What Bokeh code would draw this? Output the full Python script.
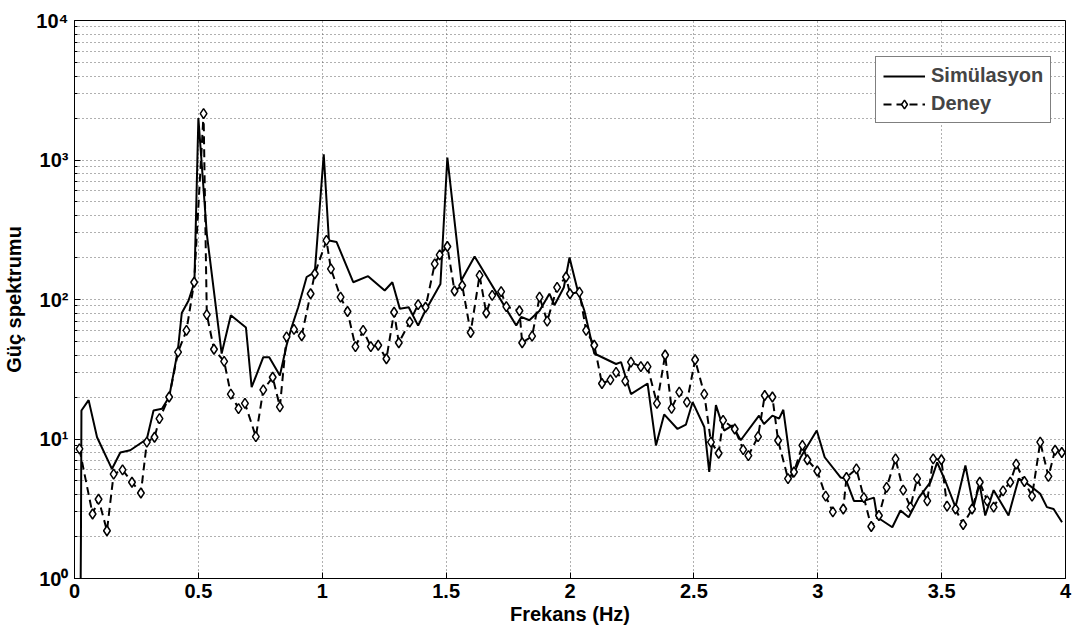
from bokeh.plotting import figure
from bokeh.models import FixedTicker, Legend, LegendItem, ColumnDataSource
from bokeh.embed import file_html
from bokeh.resources import INLINE

# Simulation (solid line)
sim_f = [0.024, 0.026, 0.028, 0.057, 0.091, 0.151, 0.185, 0.225, 0.292, 0.319, 0.353, 0.382, 0.417, 0.433,
         0.460, 0.484, 0.500, 0.534, 0.594, 0.631, 0.692, 0.715, 0.762, 0.786, 0.829, 0.856, 0.876, 0.903,
         0.937, 0.970, 1.006, 1.027, 1.058, 1.125, 1.185, 1.252, 1.283, 1.313, 1.349, 1.387, 1.413, 1.477,
         1.505, 1.561, 1.615, 1.783, 1.803, 1.836, 1.877, 1.917, 1.937, 1.975, 1.998, 2.031, 2.058, 2.098,
         2.186, 2.206, 2.246, 2.313, 2.347, 2.380, 2.434, 2.468, 2.495, 2.542, 2.562, 2.589, 2.622, 2.656,
         2.689, 2.763, 2.783, 2.817, 2.844, 2.861, 2.898, 2.931, 2.996, 3.028, 3.092, 3.112, 3.146, 3.186,
         3.227, 3.240, 3.301, 3.334, 3.367, 3.408, 3.455, 3.482, 3.515, 3.556, 3.596, 3.629, 3.653, 3.676,
         3.710, 3.770, 3.811, 3.838, 3.865, 3.898, 3.925, 3.952, 3.986]
sim_v = [0.5, 2.0, 16, 19, 10.3, 6.1, 8.0, 8.3, 10, 16, 16.5, 20, 43, 80,
         98, 133, 2000, 296, 41, 77, 63, 23.5, 38.6, 38.6, 28.5, 47, 63, 88,
         145, 157, 1100, 265, 258, 133, 147, 116, 133, 86, 88, 65, 81, 129,
         1040, 137, 203, 65, 75, 71, 83, 110, 91, 122, 200, 116, 83, 41,
         34.5, 35.6, 21, 25, 9, 15, 11.8, 12.7, 18.4, 12.2, 5.8, 17.5, 11.5, 12.5,
         9.8, 14.7, 12.8, 14.7, 14, 16.2, 5.3, 7.4, 11.5, 7.4, 5.3, 5.2, 3.6, 3.6,
         3.8, 2.75, 2.33, 3.07, 2.75, 3.8, 4.9, 6.8, 5.0, 3.25, 6.45, 3.25, 4.77, 2.83,
         4.3, 2.83, 5.2, 4.9, 4.5, 4.05, 3.25, 3.15, 2.53]

# Experiment (dashed line with diamonds)
exp_f = [0.020, 0.073, 0.097, 0.131, 0.158, 0.194, 0.232, 0.268, 0.292, 0.323, 0.343, 0.382, 0.418, 0.452,
         0.483, 0.521, 0.534, 0.563, 0.604, 0.631, 0.662, 0.688, 0.732, 0.762, 0.800, 0.829, 0.856, 0.886,
         0.917, 0.953, 0.970, 1.017, 1.035, 1.074, 1.102, 1.134, 1.165, 1.196, 1.226, 1.259, 1.290, 1.309,
         1.353, 1.387, 1.417, 1.454, 1.474, 1.505, 1.534, 1.565, 1.599, 1.635, 1.662, 1.686, 1.722, 1.743,
         1.796, 1.807, 1.847, 1.877, 1.908, 1.948, 1.984, 2.000, 2.038, 2.065, 2.098, 2.129, 2.163, 2.186,
         2.223, 2.246, 2.286, 2.313, 2.351, 2.384, 2.410, 2.441, 2.472, 2.505, 2.542, 2.569, 2.600, 2.618,
         2.665, 2.699, 2.720, 2.759, 2.786, 2.817, 2.840, 2.880, 2.904, 2.938, 2.958, 2.998, 3.032, 3.061,
         3.103, 3.116, 3.156, 3.186, 3.216, 3.247, 3.278, 3.314, 3.345, 3.374, 3.401, 3.442, 3.466, 3.499,
         3.522, 3.556, 3.587, 3.623, 3.654, 3.684, 3.710, 3.748, 3.777, 3.801, 3.834, 3.865, 3.898, 3.931,
         3.958, 3.985]
exp_v = [8.5, 2.9, 3.7, 2.2, 5.6, 6.0, 4.9, 4.1, 9.5, 10.3, 14, 20, 42, 60,
         133, 2150, 78, 44, 36, 21, 16.5, 18, 10.4, 22.5, 27.7, 17, 54, 61,
         55, 110, 153, 265, 166, 104, 82, 46, 60, 46, 47, 37.6, 81, 49,
         69, 92, 88, 180, 209, 240, 115, 126, 58, 149, 80, 107, 114, 89,
         83, 49, 54.6, 104, 70, 122, 145, 110, 113, 60, 47, 25, 26.5, 30,
         26, 35.6, 33, 33, 18, 40, 16.6, 21.7, 18.4, 37, 21, 9.5, 7.9, 13.6,
         11.8, 8.4, 7.6, 10.4, 20.5, 20, 9.75, 5.2, 5.8, 9, 7.1, 5.9, 3.9, 3.0,
         3.15, 5.3, 6.1, 3.8, 2.36, 2.83, 4.5, 7.2, 4.3, 3.25, 5.2, 3.6, 7.2, 7.1,
         3.3, 3.15, 2.44, 3.15, 4.9, 3.6, 3.25, 4.25, 4.9, 6.6, 4.96, 3.9, 9.5, 5.4,
         8.3, 8.0]

x_ticks = [0, 0.5, 1, 1.5, 2, 2.5, 3, 3.5, 4]
x_tick_labels = ["0", "0.5", "1", "1.5", "2", "2.5", "3", "3.5", "4"]
y_ticks = [1, 10, 100, 1000, 10000]
y_tick_labels = ["10⁰", "10¹", "10²", "10³", "10⁴"]
y_minor = [m * d for d in [1, 10, 100, 1000] for m in range(2, 10)]

FONT = "Liberation Sans"

p = figure(width=1078, height=634, x_range=(0, 4), y_range=(1, 10000),
           y_axis_type="log", output_backend="svg", toolbar_location=None)
p.min_border_left = 72
p.min_border_top = 20
p.min_border_right = 13
p.min_border_bottom = 56
p.background_fill_color = "white"
p.outline_line_color = "black"
p.outline_line_width = 1

xt = FixedTicker(ticks=x_ticks, minor_ticks=[])
yt = FixedTicker(ticks=y_ticks, minor_ticks=y_minor)

p.xaxis.ticker = xt
p.xaxis.major_label_overrides = {t: l for t, l in zip(x_ticks, x_tick_labels)}
p.xaxis.axis_label = "Frekans (Hz)"
p.yaxis.ticker = yt
p.yaxis.major_label_overrides = {t: l for t, l in zip(y_ticks, y_tick_labels)}
p.yaxis.axis_label = "Güç spektrumu"

for axs in (p.xaxis, p.yaxis):
    axs.major_tick_in = 6
    axs.major_tick_out = 0
    axs.minor_tick_in = 3
    axs.minor_tick_out = 0
    axs.axis_line_color = "black"
    axs.major_tick_line_color = "black"
    axs.minor_tick_line_color = "black"
    axs.major_label_text_font = FONT
    axs.major_label_text_font_style = "bold"
    axs.major_label_text_font_size = "20px"
    axs.major_label_text_color = "black"
    axs.axis_label_text_font = FONT
    axs.axis_label_text_font_style = "bold"
    axs.axis_label_text_font_size = "20px"
    axs.axis_label_text_color = "black"

p.xaxis.major_label_standoff = 5
p.xaxis.axis_label_standoff = 2
p.yaxis.major_label_standoff = 6
p.yaxis.axis_label_standoff = 8

p.xgrid.ticker = xt
p.ygrid.ticker = yt
p.xgrid.grid_line_color = "#606060"
p.xgrid.grid_line_dash = "1 3"
p.ygrid.grid_line_color = "#606060"
p.ygrid.grid_line_dash = "1 3"
p.ygrid.minor_grid_line_color = "#606060"
p.ygrid.minor_grid_line_dash = "1 3"

sim_src = ColumnDataSource(dict(f=sim_f, v=sim_v))
exp_src = ColumnDataSource(dict(f=exp_f, v=exp_v))

r_sim = p.line("f", "v", source=sim_src, line_color="black", line_width=2)
r_exp_l = p.line("f", "v", source=exp_src, line_color="black", line_width=2, line_dash="8 5")
r_exp_m = p.scatter("f", "v", source=exp_src, marker="diamond", size=10, fill_color="white",
                    line_color="black", line_width=1.5)

legend = Legend(items=[LegendItem(label="Simülasyon", renderers=[r_sim]),
                       LegendItem(label="Deney", renderers=[r_exp_l, r_exp_m])],
                location=(801, 455))
legend.label_text_font = FONT
legend.label_text_font_style = "bold"
legend.label_text_font_size = "20px"
legend.label_height = 22
legend.border_line_color = "black"
legend.border_line_width = 1
legend.background_fill_alpha = 1
legend.glyph_width = 42
legend.glyph_height = 22
legend.label_standoff = 6
legend.padding = 7
legend.spacing = 5
legend.margin = 0
p.add_layout(legend)

open("out.html", "w").write(file_html(p, INLINE))
